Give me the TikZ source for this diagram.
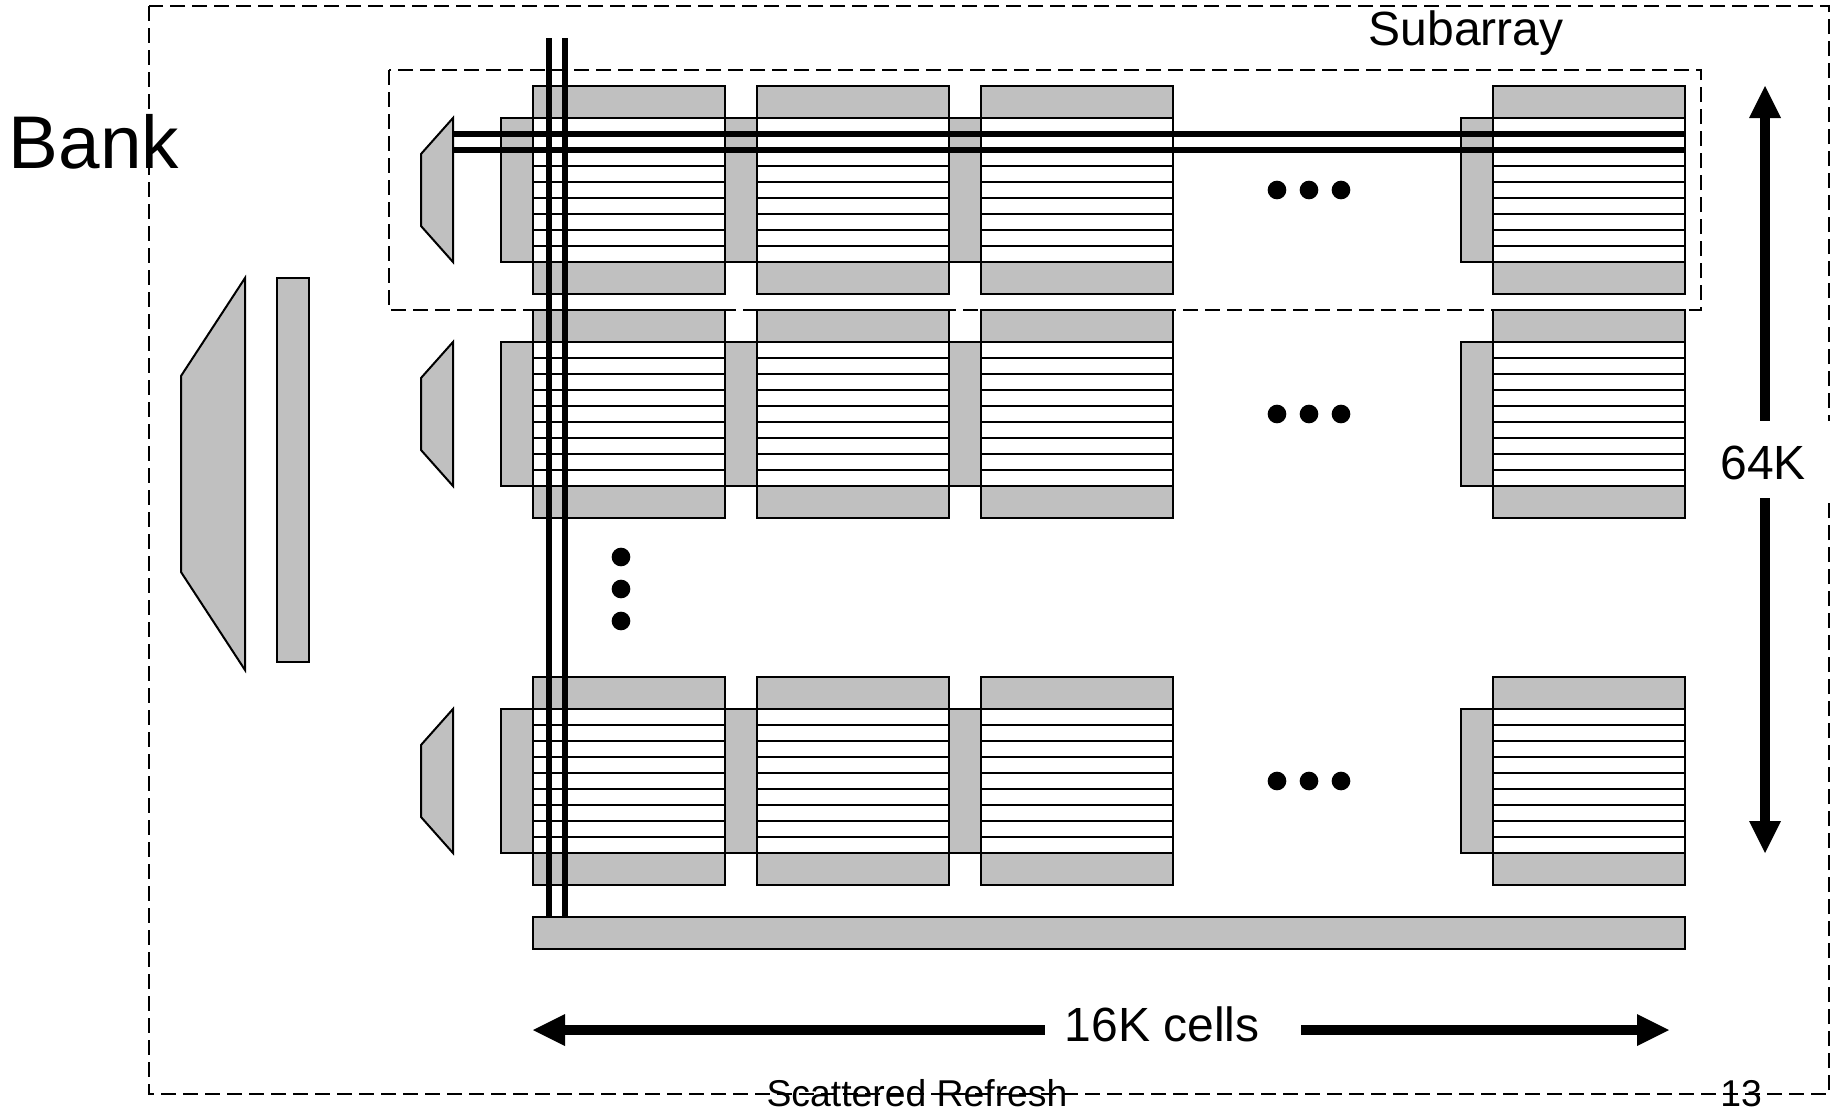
\documentclass[tikz,border=0pt]{standalone}
\usepackage{fontspec}
\setmainfont{Liberation Sans}
\definecolor{blockgray}{RGB}{192,192,192}
\tikzset{
  px/.style={x=0.75pt,y=-0.75pt},
  graybox/.style={draw=black,fill=blockgray,line width=1.5pt,line join=miter},
  cellbox/.style={draw=black,fill=white,line width=1.5pt},
  cellline/.style={draw=black,line width=1.5pt},
  dashbox/.style={draw=black,line width=1.4pt,dash pattern=on 11pt off 5.5pt},
  wire/.style={draw=black,line width=4.2pt},
  shaft/.style={draw=black,line width=8pt},
  tipfill/.style={fill=black,draw=none},
  dotmark/.style={circle,fill=black,inner sep=0pt,outer sep=0pt,minimum size=14pt},
  lbl/.style={inner sep=0pt,outer sep=0pt,font=\fontsize{#1}{#1}\selectfont}
}
% \blockrow{y offset}{name prefix}
\newcommand{\blockrow}[2]{%
  \foreach \xa in {501,725,949,1461}{
    \path[graybox] (\xa,118+#1) rectangle (\xa+32,262+#1);
  }
  \foreach \xb in {533,757,981,1493}{
    \path[graybox] (\xb,86+#1) rectangle (\xb+192,294+#1);
    \path[cellbox] (\xb,118+#1) rectangle (\xb+192,262+#1);
    \foreach \ly in {134,150,...,246}{
      \path[cellline] (\xb,\ly+#1) -- (\xb+192,\ly+#1);
    }
  }
  \path[graybox] (421,154+#1) -- (453,118+#1) -- (453,262+#1) -- (421,226+#1) -- cycle;
  \foreach \dx in {1277,1309,1341}{
    \node[dotmark] (#2d\dx) at (\dx,190+#1) {};
  }
}
\begin{document}
\begin{tikzpicture}[px]
\useasboundingbox (0,0) rectangle (1835,1109.5);
\fill[white] (0,0) rectangle (1835,1111);
% outer bank box and subarray box
\path[dashbox] (149,6) rectangle (1829,1094);
\path[dashbox] (389,70) rectangle (1701,310);
% rows
\blockrow{0}{r}
\blockrow{224}{s}
\blockrow{591}{t}
% global decoder
\path[graybox] (181,376) -- (245,278) -- (245,670) -- (181,572) -- cycle;
\path[graybox] (277,278) rectangle (309,662);
% bottom bar
\node[graybox,minimum width=864pt,minimum height=24pt,inner sep=0pt,outer sep=0pt,anchor=north west] (bar) at (533,917) {};
% wires
\coordinate (vA) at (549,38); \coordinate (vB) at (565,38);
\draw[wire] (vA) -- (vA |- bar.north);
\draw[wire] (vB) -- (vB |- bar.north);
\coordinate (hA) at (453,134); \coordinate (hAe) at (1685,134);
\coordinate (hB) at (453,150); \coordinate (hBe) at (1685,150);
\draw[wire] (hA) -- (hAe);
\draw[wire] (hB) -- (hBe);
% vertical dots
\foreach \dy in {557,589,621}{\node[dotmark] (v\dy) at (621,\dy) {};}
% white backing of the 64K label
\fill[white] (1700,421) rectangle (1833,498);
% arrows
\coordinate (up) at (1765,118); \coordinate (upe) at (1765,421);
\coordinate (dn) at (1765,821); \coordinate (dne) at (1765,498);
\draw[shaft] (up) -- (upe);
\draw[shaft] (dn) -- (dne);
\fill[tipfill] (1765,86) -- (1781,118) -- (1749,118) -- cycle;
\fill[tipfill] (1765,853) -- (1781,821) -- (1749,821) -- cycle;
\coordinate (lf) at (565,1030); \coordinate (lfe) at (1045,1030);
\coordinate (rt) at (1637,1030); \coordinate (rte) at (1301,1030);
\draw[shaft] (lf) -- (lfe);
\draw[shaft] (rt) -- (rte);
\fill[tipfill] (533,1030) -- (565,1014) -- (565,1046) -- cycle;
\fill[tipfill] (1669,1030) -- (1637,1014) -- (1637,1046) -- cycle;
% texts
\node[lbl=36,anchor=base] (k64) at (1763,479) {64K};
\node[lbl=36,anchor=base] (k16) at (1162,1041) {16K cells};
\node[lbl=56,anchor=base] (bank) at (94,168) {Bank};
\node[lbl=36,anchor=base] (sub) at (1466,45) {Subarray};
\node[lbl=28,anchor=base] (foot) at (917,1106) {Scattered Refresh};
\node[lbl=28,anchor=base] (num) at (1741,1106) {13};
\end{tikzpicture}
\end{document}
